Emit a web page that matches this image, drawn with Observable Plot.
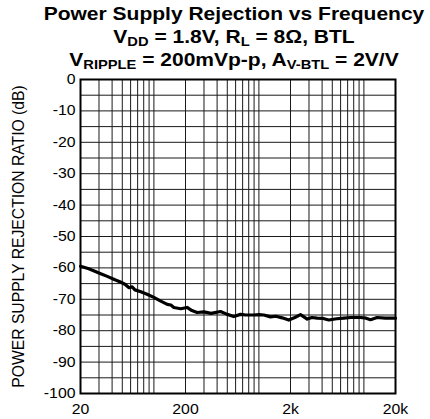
<!DOCTYPE html>
<html>
<head>
<meta charset="utf-8">
<script src="https://cdn.jsdelivr.net/npm/d3@7"></script>
<script src="https://cdn.jsdelivr.net/npm/@observablehq/plot@0.6"></script>
<style>
  html, body { margin: 0; padding: 0; background: white; }
  #wrap { position: relative; width: 430px; height: 419px; font-family: "Liberation Sans", Arial, sans-serif; }
  .tl { position: absolute; left: 0; width: 468px; text-align: center; font-weight: bold; font-size: 18.6px; line-height: 18.6px; white-space: nowrap; transform: scaleX(1.13); transform-origin: 234px 0; color: black; }
  .tl .s { font-size: 13px; position: relative; top: 3px; }
  #chart { position: absolute; left: 0; top: 0; }
</style>
</head>
<body>
<div id="wrap">
  <div id="chart"></div>
  <div class="tl" style="top:4.8px">Power Supply Rejection vs Frequency</div>
  <div class="tl" style="top:28.3px">V<span class="s">DD</span> = 1.8V, R<span class="s">L</span> = 8Ω, BTL</div>
  <div class="tl" style="top:50.8px">V<span class="s">RIPPLE</span> = 200mVp-p, A<span class="s">V-BTL</span> = 2V/V</div>
</div>
<script>
// Data
const freq = [20,24,27,32,36,42,48,53,58,62,66,75,85,100,115,134,145,155,180,207,230,258,300,350,431,500,577,668,750,894,1000,1114,1290,1450,1665,1926,2200,2490,2885,3200,3590,4100,4630,5500,6440,7500,9280,10500,11560,13370,16000,20000];
const psrr = [-59.5,-60.3,-61.0,-62.0,-62.7,-63.7,-64.5,-65.2,-66.3,-66.0,-67.0,-67.6,-68.3,-69.4,-70.5,-71.6,-71.8,-72.6,-73.0,-72.6,-73.6,-74.2,-74.0,-74.5,-73.9,-74.8,-75.5,-74.8,-75.0,-75.0,-74.9,-75.0,-75.6,-75.4,-75.9,-76.6,-75.8,-74.9,-76.3,-75.8,-76.0,-76.1,-76.6,-76.2,-76.0,-75.8,-75.8,-76.0,-76.5,-75.8,-76.0,-76.0];

const xTicks = [20, 200, 2000, 20000];
const xTickLabels = ["20", "200", "2k", "20k"];
const yTicks = [0, -10, -20, -30, -40, -50, -60, -70, -80, -90, -100];
const yTickLabels = ["0", "-10", "-20", "-30", "-40", "-50", "-60", "-70", "-80", "-90", "-100"];
const gridFreqs = [30,40,50,60,70,80,90,100,200,300,400,500,600,700,800,900,1000,2000,3000,4000,5000,6000,7000,8000,9000,10000];
const gridDb = [-5,-10,-15,-20,-25,-30,-35,-40,-45,-50,-55,-60,-65,-70,-75,-80,-85,-90,-95];
const yTitle = ["POWER SUPPLY REJECTION RATIO (dB)"];

const rows = freq.map((f, i) => ({f, db: psrr[i]}));

const chart = Plot.plot({
  width: 430,
  height: 419,
  marginTop: 79,
  marginBottom: 26,
  marginLeft: 80,
  marginRight: 35,
  style: {fontFamily: "Liberation Sans, Arial, sans-serif", fontSize: "14px", color: "black", background: "white"},
  x: {type: "log", domain: [20, 20000], ticks: xTicks, tickFormat: d => xTickLabels[xTicks.indexOf(d)], tickSize: 0, tickPadding: 11, label: null},
  y: {domain: [-100, 0], ticks: yTicks, tickFormat: d => yTickLabels[yTicks.indexOf(d)], tickSize: 0, tickPadding: 5, label: null},
  marks: [
    Plot.ruleX(gridFreqs, {stroke: "#1a1a1a", strokeWidth: 1}),
    Plot.ruleY(gridDb, {stroke: "#1a1a1a", strokeWidth: 1}),
    Plot.frame({stroke: "black", strokeWidth: 2}),
    Plot.line(rows, {x: "f", y: "db", stroke: "black", strokeWidth: 3.2, strokeLinejoin: "round"}),
    Plot.text(yTitle, {frameAnchor: "left", dx: -61.5, rotate: -90, fontSize: 15.7, textAnchor: "middle", lineAnchor: "middle", fill: "black"})
  ]
});
document.getElementById("chart").appendChild(chart);

// horizontally stretch tick labels like the reference
chart.querySelectorAll('g[aria-label^="x-axis"] text, g[aria-label^="y-axis"] text').forEach(t => {
  const len = t.getComputedTextLength();
  if (len > 0) {
    t.setAttribute("textLength", (len * 1.13).toFixed(2));
    t.setAttribute("lengthAdjust", "spacingAndGlyphs");
  }
});
</script>
</body>
</html>
